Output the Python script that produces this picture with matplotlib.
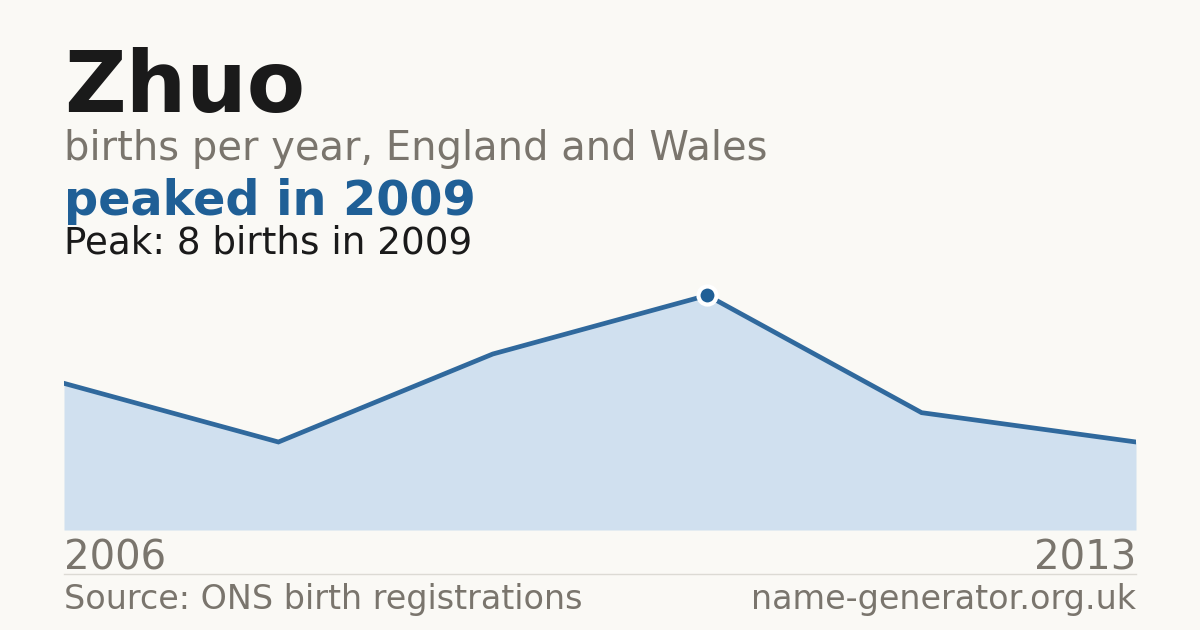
import matplotlib
matplotlib.use("Agg")
import matplotlib.pyplot as plt

plt.rcParams["font.family"] = ["DejaVu Sans"]

# data
years = [2006, 2007, 2008, 2009, 2012, 2013]
births = [5, 3, 6, 8, 4, 3]
name = "Zhuo"

BG = "#faf9f5"
GREY = "#7a756d"
BLUE = "#1f5f96"
LINE = "#30699d"
FILL = "#d0e0ef"
W, H = 1200, 630

fig = plt.figure(figsize=(12, 6.3), dpi=100, facecolor=BG)


def fy(py):
    return 1 - py / H


# chart area
ax = fig.add_axes([64 / W, fy(530), 1072 / W, (530 - 266) / H])
ax.set_facecolor(BG)
xs = list(range(len(years)))
ax.fill_between(xs, births, 0, color=FILL, linewidth=0)
ax.plot(xs, births, color=LINE, linewidth=3.4, solid_joinstyle="miter")
peak_i = births.index(max(births))
ax.plot(xs[peak_i], births[peak_i], "o", color=BLUE, markersize=13,
        markeredgecolor="white", markeredgewidth=3, zorder=5)
ax.set_xlim(0, len(years) - 1)
ax.set_ylim(0, 9.0)
ax.axis("off")

# header
fig.text(64 / W, fy(112), name, fontsize=61.2, fontweight="bold",
         color="#1a1a1a", va="baseline")
fig.text(64 / W, fy(160), "births per year, England and Wales", fontsize=28.8,
         color=GREY, va="baseline")
fig.text(64 / W, fy(215), f"peaked in {years[peak_i]}", fontsize=34.4,
         fontweight="bold", color=BLUE, va="baseline")
fig.text(64 / W, fy(253), f"Peak: {births[peak_i]} births in {years[peak_i]}",
         fontsize=26.8, color="#1a1a1a", va="baseline")

# footer
fig.text(64 / W, fy(570), str(years[0]), fontsize=29, color=GREY, va="baseline")
fig.text(1136 / W, fy(570), str(years[-1]), fontsize=29, color=GREY,
         va="baseline", ha="right")
fig.add_artist(plt.Line2D([64 / W, 1136 / W], [fy(574), fy(574)],
                          color="#dcdad4", linewidth=1))
fig.text(64 / W, fy(609), "Source: ONS birth registrations", fontsize=24,
         color=GREY, va="baseline")
fig.text(1136 / W, fy(609), "name-generator.org.uk", fontsize=24, color=GREY,
         va="baseline", ha="right")

fig.savefig("out.png", dpi=100, facecolor=BG)
